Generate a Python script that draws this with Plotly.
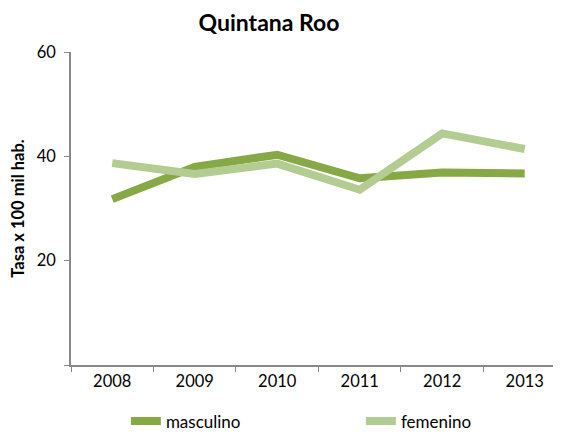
import plotly.graph_objects as go

years = ["2008", "2009", "2010", "2011", "2012", "2013"]
masculino = [31.8, 38.0, 40.3, 35.8, 36.9, 36.7]
femenino = [38.7, 36.6, 38.6, 33.6, 44.4, 41.4]

fig = go.Figure()
fig.add_trace(go.Scatter(x=years, y=masculino, name="masculino", mode="lines",
                         line=dict(color="#86A845", width=8)))
fig.add_trace(go.Scatter(x=years, y=femenino, name="femenino", mode="lines",
                         line=dict(color="#B3CC91", width=8)))

# the page has an 8px body margin, so the figure is 8px smaller than the window
fig.update_layout(
    width=553, height=426,
    margin=dict(l=63, r=0, t=44, b=69, autoexpand=False),
    paper_bgcolor="white", plot_bgcolor="white",
    font=dict(family="Lato", size=16.5, color="#000"),
    title=dict(text="<b>Quintana Roo</b>", x=0.472, xanchor="center", y=0.965, yanchor="middle",
               font=dict(size=23)),
    showlegend=True,
    legend=dict(orientation="h", x=0.112, xanchor="left", y=-0.18, yanchor="middle",
                font=dict(size=17), tracegroupgap=0,
                entrywidth=190, entrywidthmode="pixels"),
    xaxis=dict(type="category", range=[-0.5, 5.44], showline=True, linecolor="#888",
               linewidth=1.5, ticks="outside", tickson="boundaries", ticklen=5,
               tickcolor="#888", showgrid=False, zeroline=False, automargin=False),
    yaxis=dict(range=[0, 60], tickvals=[0, 20, 40, 60], ticktext=["", "20", "40", "60"],
               showline=True, linecolor="#888", linewidth=1.5, ticks="outside", ticklen=5,
               tickcolor="#888", showgrid=False, zeroline=False, automargin=False,
               ticklabelstandoff=5,
               title=dict(text="<b>Tasa x 100 mil hab.</b>", font=dict(size=16.5), standoff=26)),
)

fig.write_html("out.html")
